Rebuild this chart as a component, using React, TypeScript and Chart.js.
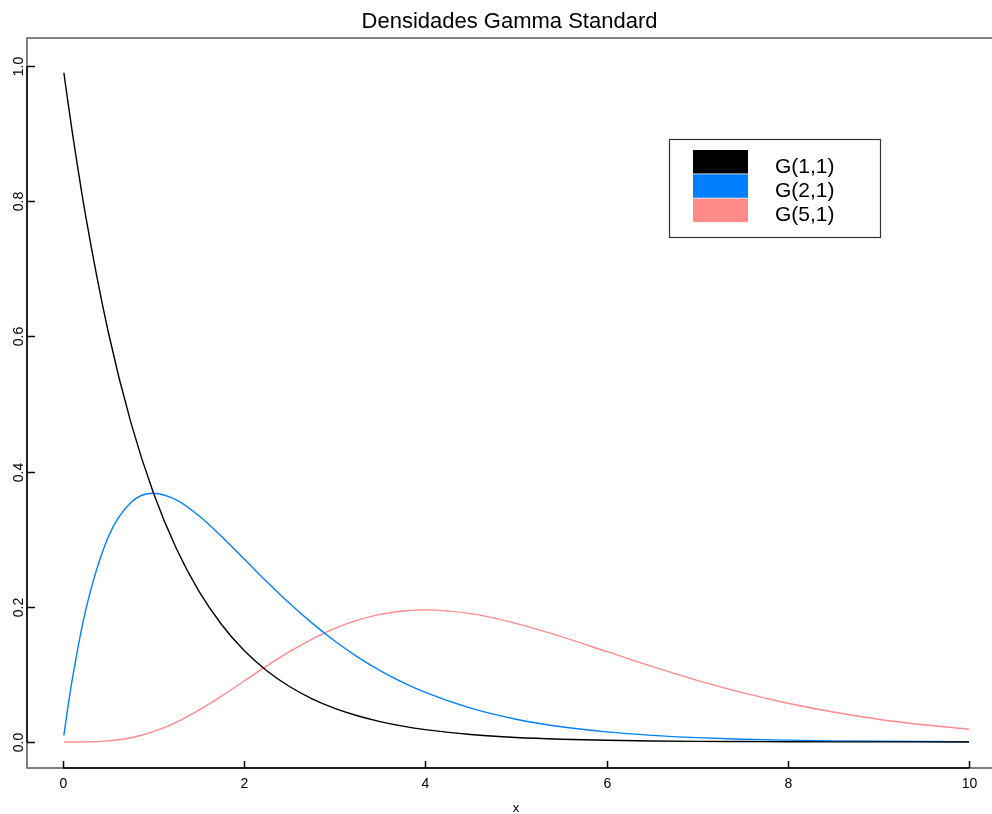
import React, { useEffect, useRef } from "react";
import { Chart, registerables } from "chart.js";

Chart.register(...registerables);

const TITLE = "Densidades Gamma Standard";
const X_LABEL = "x";
const X_TICKS = [0, 2, 4, 6, 8, 10];
const Y_TICKS = [0.0, 0.2, 0.4, 0.6, 0.8, 1.0];
const SERIES_LABELS = ["G(1,1)", "G(2,1)", "G(5,1)"];
const SERIES_COLORS = ["#000000", "#0080FF", "#FF8A8A"];

const xs = [0.01, 0.05, 0.1, 0.25, 0.5, 0.75, 1.0, 1.25, 1.5, 1.75, 2.0, 2.25, 2.5, 2.75, 3.0, 3.25, 3.5, 3.75, 4.0, 4.5, 5.0, 5.5, 6.0, 6.5, 7.0, 7.5, 8.0, 8.5, 9.0, 9.5, 10.0];

const g11 = [0.990, 0.9512, 0.9048, 0.7788, 0.6065, 0.4724, 0.3679, 0.2865, 0.2231, 0.1738, 0.1353, 0.1054, 0.0821, 0.0639, 0.0498, 0.0388, 0.0302, 0.0235, 0.0183, 0.0111, 0.0067, 0.0041, 0.0025, 0.0015, 0.0009, 0.0006, 0.0003, 0.0002, 0.0001, 0.0001, 0.0000];

const g21 = [0.0099, 0.0476, 0.0905, 0.1947, 0.3033, 0.3543, 0.3679, 0.3581, 0.3347, 0.3041, 0.2707, 0.2371, 0.2052, 0.1758, 0.1494, 0.1260, 0.1057, 0.0882, 0.0733, 0.0500, 0.0337, 0.0225, 0.0149, 0.0098, 0.0064, 0.0041, 0.0027, 0.0017, 0.0011, 0.0007, 0.0005];

const g51 = [0.0000, 0.0000, 0.0000, 0.0001, 0.0016, 0.0062, 0.0153, 0.0291, 0.0471, 0.0679, 0.0902, 0.1126, 0.1336, 0.1523, 0.1680, 0.1802, 0.1888, 0.1938, 0.1954, 0.1898, 0.1755, 0.1558, 0.1339, 0.1118, 0.0912, 0.0729, 0.0573, 0.0443, 0.0337, 0.0254, 0.0189];

const SERIES = [g11, g21, g51];

const FONT = "'Liberation Sans', Arial, Helvetica, sans-serif";

const framePlugin = {
  id: "rframe",
  afterDraw(chart: any) {
    const ctx = chart.ctx;
    const a = chart.chartArea;
    const xs_ = chart.scales.x;
    const ys_ = chart.scales.y;
    ctx.save();
    // box (open on the right)
    ctx.strokeStyle = "#5a5a5a";
    ctx.lineWidth = 1.5;
    ctx.beginPath();
    ctx.moveTo(chart.width, a.top);
    ctx.lineTo(a.left, a.top);
    ctx.lineTo(a.left, a.bottom);
    ctx.lineTo(chart.width, a.bottom);
    ctx.stroke();

    // x axis
    ctx.strokeStyle = "#000";
    ctx.lineWidth = 1.5;
    const x0 = xs_.getPixelForValue(X_TICKS[0]);
    const x1 = xs_.getPixelForValue(X_TICKS[X_TICKS.length - 1]);
    ctx.beginPath();
    ctx.moveTo(x0, a.bottom);
    ctx.lineTo(x1, a.bottom);
    ctx.stroke();
    ctx.fillStyle = "#000";
    ctx.font = `14px ${FONT}`;
    ctx.textAlign = "center";
    ctx.textBaseline = "alphabetic";
    for (const t of X_TICKS) {
      const px = Math.round(xs_.getPixelForValue(t)) + 0.5;
      ctx.beginPath();
      ctx.moveTo(px, a.bottom);
      ctx.lineTo(px, a.bottom - 7);
      ctx.stroke();
      ctx.fillText(String(t), px, a.bottom + 20);
    }
    ctx.font = `13px ${FONT}`;
    ctx.fillText(X_LABEL, xs_.getPixelForValue(5), a.bottom + 44);

    // y axis
    const y0 = ys_.getPixelForValue(Y_TICKS[0]);
    const y1 = ys_.getPixelForValue(Y_TICKS[Y_TICKS.length - 1]);
    ctx.beginPath();
    ctx.moveTo(a.left, y0);
    ctx.lineTo(a.left, y1);
    ctx.stroke();
    ctx.font = `14px ${FONT}`;
    for (const t of Y_TICKS) {
      const py = Math.round(ys_.getPixelForValue(t)) + 0.5;
      ctx.beginPath();
      ctx.moveTo(a.left, py);
      ctx.lineTo(a.left + 8, py);
      ctx.stroke();
      ctx.save();
      ctx.translate(a.left - 4, py);
      ctx.rotate(-Math.PI / 2);
      ctx.textAlign = "center";
      ctx.fillText(t.toFixed(1), 0, 0);
      ctx.restore();
    }

    // title
    ctx.font = `22px ${FONT}`;
    ctx.textAlign = "center";
    ctx.fillText(TITLE, (a.left + chart.width) / 2, 28);

    // legend
    const lx = 669, ly = 139, lw = 211, lh = 98;
    ctx.fillStyle = "#fff";
    ctx.fillRect(lx, ly, lw, lh);
    ctx.strokeStyle = "#333";
    ctx.lineWidth = 1.2;
    ctx.strokeRect(lx + 0.5, ly + 0.5, lw, lh);
    ctx.font = `21px ${FONT}`;
    ctx.textAlign = "left";
    chart.data.datasets.forEach((ds: any, i: number) => {
      ctx.fillStyle = ds.borderColor;
      ctx.fillRect(693, 150 + i * 24.3, 55, 23.5);
      ctx.fillStyle = "#000";
      ctx.fillText(ds.label, 775, 173 + i * 24);
    });
    ctx.restore();
  },
};

export default function App() {
  const ref = useRef<HTMLCanvasElement | null>(null);
  useEffect(() => {
    document.body.style.margin = "0";
    const canvas = ref.current!;
    const chart = new Chart(canvas, {
      type: "scatter",
      data: {
        datasets: SERIES.map((s, i) => ({
          label: SERIES_LABELS[i],
          data: xs.map((x, j) => ({ x, y: s[j] })),
          borderColor: SERIES_COLORS[i],
          backgroundColor: SERIES_COLORS[i],
          borderWidth: 1.4,
          showLine: true,
          pointRadius: 0,
          cubicInterpolationMode: "monotone" as const,
          fill: false,
        })),
      },
      options: {
        animation: false,
        responsive: false,
        devicePixelRatio: 1,
        layout: { padding: { left: 27, top: 38, right: 0, bottom: 46 } },
        plugins: {
          legend: { display: false },
          title: { display: false },
          tooltip: { enabled: false },
        },
        scales: {
          x: { type: "linear", min: -0.397, max: 10.254, display: false },
          y: { type: "linear", min: -0.0385, max: 1.0414, display: false },
        },
      },
      plugins: [framePlugin],
    });
    return () => chart.destroy();
  }, []);
  return (
    <div style={{ position: "absolute", left: 0, top: 0, width: 992, height: 814, background: "#fff" }}>
      <canvas ref={ref} width={992} height={814} style={{ width: 992, height: 814, display: "block" }} />
    </div>
  );
}
